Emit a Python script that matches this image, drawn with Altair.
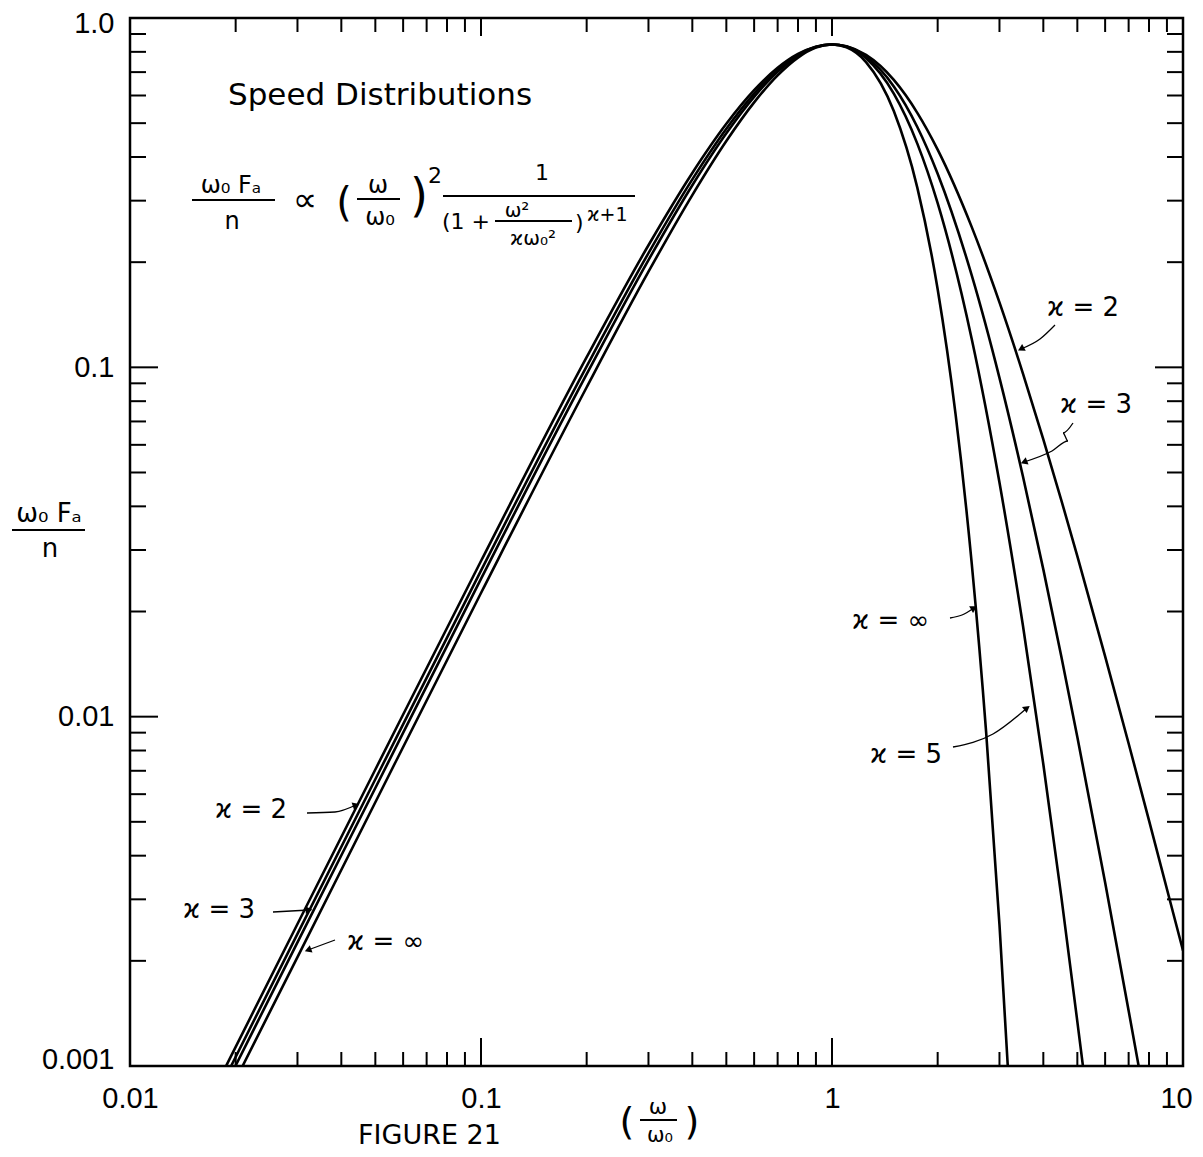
import math
import altair as alt
import pandas as pd

# ---------------- data ----------------
# omega/omega0 (x) and omega0*Fa/n (y) for each kappa curve
k2_x = [0.01878, 0.03, 0.05, 0.1, 0.2, 0.3, 0.4, 0.5, 0.6, 0.7, 0.8, 0.9, 1.0, 1.1, 1.25,
        1.5, 1.75, 2.0, 2.5, 3.0, 3.5, 4.0, 4.5, 5.0, 6.0, 7.0, 8.0, 10.0]
k2_y = [0.001, 0.00255, 0.00706, 0.0279, 0.1069, 0.2236, 0.3601, 0.4978, 0.6212, 0.7199,
        0.7889, 0.8280, 0.840, 0.8297, 0.7838, 0.6648, 0.5353, 0.420, 0.2524, 0.1534,
        0.0960, 0.0622, 0.0417, 0.0288, 0.01488, 0.00838, 0.00505, 0.00214]

k3_x = [0.01941, 0.03, 0.05, 0.1, 0.2, 0.3, 0.4, 0.5, 0.6, 0.7, 0.8, 0.9, 1.0, 1.1, 1.25,
        1.5, 1.75, 2.0, 2.5, 3.0, 3.5, 4.0, 4.5, 5.0, 6.0, 7.0, 7.475]
k3_y = [0.001, 0.00239, 0.00662, 0.0262, 0.1007, 0.2123, 0.3451, 0.4819, 0.6074, 0.7103,
        0.7840, 0.8267, 0.840, 0.8283, 0.7755, 0.6369, 0.4876, 0.3583, 0.1836, 0.0933,
        0.0487, 0.0264, 0.0149, 0.00875, 0.00335, 0.00144, 0.001]

k5_x = [0.01997, 0.03, 0.05, 0.1, 0.2, 0.3, 0.4, 0.5, 0.6, 0.7, 0.8, 0.9, 1.0, 1.1, 1.25,
        1.5, 1.75, 2.0, 2.5, 3.0, 3.5, 4.0, 4.5, 5.0, 5.187]
k5_y = [0.001, 0.00226, 0.00625, 0.0248, 0.0956, 0.2028, 0.3322, 0.4679, 0.5949, 0.7013,
        0.7792, 0.8253, 0.840, 0.8268, 0.7666, 0.6072, 0.4369, 0.2950, 0.1208, 0.0468,
        0.0182, 0.00731, 0.00306, 0.00134, 0.001]

kinf_x = [0.02093, 0.03, 0.05, 0.1, 0.2, 0.3, 0.4, 0.5, 0.6, 0.7, 0.8, 0.9, 1.0, 1.1, 1.25,
          1.5, 1.75, 2.0, 2.25, 2.5, 2.75, 3.0, 3.168]
kinf_y = [0.001, 0.00205, 0.00569, 0.0226, 0.0877, 0.1878, 0.3113, 0.4445, 0.5734, 0.6853,
          0.7704, 0.8227, 0.840, 0.8238, 0.7477, 0.5414, 0.3270, 0.1673, 0.0732, 0.02755,
          0.00897, 0.00254, 0.001]

# axis tick positions and labels
x_label_values = [0.01, 0.1, 1, 10]
x_label_text = ["0.01", "0.1", "1", "10"]
y_label_values = [0.001, 0.01, 0.1, 1]
y_label_text = ["0.001", "0.01", "0.1", "1.0"]
x_major_ticks = [0.1, 1]
x_minor_ticks = [0.02, 0.03, 0.04, 0.05, 0.06, 0.07, 0.08, 0.09,
                 0.2, 0.3, 0.4, 0.5, 0.6, 0.7, 0.8, 0.9,
                 2, 3, 4, 5, 6, 7, 8, 9]
y_major_ticks = [0.01, 0.1]
y_minor_ticks = [0.002, 0.003, 0.004, 0.005, 0.006, 0.007, 0.008, 0.009,
                 0.02, 0.03, 0.04, 0.05, 0.06, 0.07, 0.08, 0.09,
                 0.2, 0.3, 0.4, 0.5, 0.6, 0.7, 0.8, 0.9]

# ---------------- layout / style ----------------
W, H = 1053, 1048          # plot area
OX, OY = 130, 18           # plot origin on the page
MINOR, MAJOR = 14, 28
INK = "black"
LBL_FONT = "Liberation Sans"
TXT_FONT = "DejaVu Sans"

xscale = alt.Scale(type="log", domain=[0.01, 10], nice=False)
yscale = alt.Scale(type="log", domain=[0.001, 1], nice=False)


def lab_expr(vals, texts):
    expr = "'" + texts[-1] + "'"
    for v, t in reversed(list(zip(vals[:-1], texts[:-1]))):
        expr = f"datum.value < {v * 3} ? '{t}' : " + expr
    return expr


xaxis = alt.Axis(values=x_label_values, labelExpr=lab_expr(x_label_values, x_label_text),
                 domain=False, ticks=False, tickSize=0, grid=False, title=None,
                 labelFont=LBL_FONT, labelFontSize=29, labelColor=INK, labelPadding=18,
                 labelFlush=False, labelOverlap=False,
                 labelOffset={"condition": {"test": "datum.value > 5", "value": -7}, "value": 0})
yaxis = alt.Axis(values=y_label_values, labelExpr=lab_expr(y_label_values, y_label_text),
                 domain=False, ticks=False, tickSize=0, grid=False, title=None,
                 labelFont=LBL_FONT, labelFontSize=29, labelColor=INK, labelPadding=16,
                 labelFlush=False, labelOverlap=False,
                 labelOffset={"condition": [{"test": "datum.value > 0.5", "value": 5},
                                            {"test": "datum.value < 0.005", "value": -7}],
                              "value": 0})


def X(field):
    return alt.X(field, type="quantitative", scale=xscale, axis=xaxis, title=None)


def Y(field):
    return alt.Y(field, type="quantitative", scale=yscale, axis=yaxis, title=None)


def PX(field):
    return alt.X(field, type="quantitative", scale=None, axis=None, title=None)


def PY(field):
    return alt.Y(field, type="quantitative", scale=None, axis=None, title=None)


# ---------------- curves ----------------
rows = []
for name, xs, ys in [("2", k2_x, k2_y), ("3", k3_x, k3_y), ("5", k5_x, k5_y), ("inf", kinf_x, kinf_y)]:
    for i, (a, b) in enumerate(zip(xs, ys)):
        rows.append({"kappa": name, "i": i, "w": a, "f": b})
curves_df = pd.DataFrame(rows)

curves = alt.Chart(curves_df).mark_line(
    color=INK, strokeWidth=2.6, interpolate="monotone", clip=True
).encode(x=X("w"), y=Y("f"), detail="kappa:N", order="i:Q")

layers = [curves]

# ---------------- inward ticks on all four sides ----------------
for vals, ln in [(x_minor_ticks, MINOR), (x_major_ticks, MAJOR)]:
    d = pd.DataFrame({"v": vals})
    layers.append(alt.Chart(d).mark_rule(color=INK, strokeWidth=2).encode(
        x=X("v"), y=alt.value(H), y2=alt.value(H - ln)))
    layers.append(alt.Chart(d).mark_rule(color=INK, strokeWidth=2).encode(
        x=X("v"), y=alt.value(0), y2=alt.value(min(ln, 18))))
for vals, ln in [(y_minor_ticks, MINOR + 2), (y_major_ticks, MAJOR)]:
    d = pd.DataFrame({"v": vals})
    layers.append(alt.Chart(d).mark_rule(color=INK, strokeWidth=2).encode(
        y=Y("v"), x=alt.value(0), x2=alt.value(ln)))
    layers.append(alt.Chart(d).mark_rule(color=INK, strokeWidth=2).encode(
        y=Y("v"), x=alt.value(W), x2=alt.value(W - ln)))


# ---------------- annotations (page pixel positions) ----------------
def P(x, y):
    return x - OX, y - OY


def text_layer(items, align, baseline, font=TXT_FONT):
    d = pd.DataFrame([{"t": t, "px": P(x, y)[0], "py": P(x, y)[1], "fs": s} for t, x, y, s in items])
    return alt.Chart(d).mark_text(align=align, baseline=baseline, font=font, color=INK).encode(
        x=PX("px"), y=PY("py"), text="t:N", size=alt.Size("fs:Q", scale=None, legend=None))


layers.append(text_layer([
    ("ω₀ Fₐ", 231, 193, 24), ("n", 232, 229, 24),
    ("ω", 378, 193, 24), ("ω₀", 380, 225, 24),
    ("1", 542, 180, 22), ("ω²", 517, 217, 20), ("ϰω₀²", 533, 245, 20),
    ("ω₀ Fₐ", 49, 522, 26), ("n", 50, 557, 26),
    ("ω", 658, 1114, 22), ("ω₀", 660, 1142, 21),
], "center", "alphabetic"))

layers.append(text_layer([
    ("∝", 305, 201, 34), ("(", 344, 204, 40), (")", 419, 197, 46),
    ("(", 627, 1123, 38), (")", 692, 1123, 38),
], "center", "middle"))

layers.append(text_layer([
    ("Speed Distributions", 228, 105, 31),
    ("2", 428, 183, 22), ("(1 +", 442, 229, 22), (")", 575, 230, 22), ("ϰ+1", 587, 221, 19),
], "left", "alphabetic"))

layers.append(text_layer([("FIGURE  21", 358, 1144, 27)], "left", "alphabetic"))

layers.append(text_layer([
    ("ϰ = 2", 1047, 308, 26), ("ϰ = 3", 1060, 405, 26),
    ("ϰ = ∞", 852, 621, 26), ("ϰ = 5", 870, 755, 26),
    ("ϰ = 2", 215, 810, 26), ("ϰ = 3", 183, 910, 26), ("ϰ = ∞", 347, 942, 26),
], "left", "middle"))

# fraction bars
bars = [(192, 275, 200), (357, 400, 199), (443, 635, 196), (495, 572, 221),
        (12, 85, 530), (640, 677, 1120)]
bars_df = pd.DataFrame([{"x1": P(a, y)[0], "x2": P(b, y)[0], "yy": P(a, y)[1]} for a, b, y in bars])
layers.append(alt.Chart(bars_df).mark_rule(color=INK, strokeWidth=2).encode(
    x=PX("x1"), x2="x2:Q", y=PY("yy")))

# label arrows
arrows = {
    "r2": [(1055, 325), (1040, 339), (1021, 349)],
    "r3": [(1073, 423), (1063, 433), (1068, 441), (1052, 451), (1024, 462)],
    "rinf": [(950, 618), (962, 615), (974, 608)],
    "r5": [(953, 747), (993, 734), (1027, 708)],
    "l2": [(307, 813), (335, 812), (356, 805)],
    "l3": [(273, 912), (309, 910)],
    "linf": [(335, 940), (308, 950)],
}
arows, heads = [], []
for k, pts in arrows.items():
    for i, (x, y) in enumerate(pts):
        px, py = P(x, y)
        arows.append({"id": k, "i": i, "px": px, "py": py})
    (x0, y0), (x1, y1) = pts[-2], pts[-1]
    ang = math.degrees(math.atan2(x1 - x0, -(y1 - y0))) % 360
    hx, hy = P(x1, y1)
    heads.append({"px": hx, "py": hy, "ang": ang})

layers.append(alt.Chart(pd.DataFrame(arows)).mark_line(color=INK, strokeWidth=1.3,
                                                       interpolate="monotone").encode(
    x=PX("px"), y=PY("py"), detail="id:N", order="i:Q"))
layers.append(alt.Chart(pd.DataFrame(heads)).mark_point(
    shape="triangle-up", filled=True, color=INK, size=60, opacity=1).encode(
    x=PX("px"), y=PY("py"), angle=alt.Angle("ang:Q", scale=None)))

chart = alt.layer(*layers).properties(
    width=W, height=H,
    autosize=alt.AutoSizeParams(type="none"),
    padding={"left": 122, "top": 10, "right": 12, "bottom": 83},
    background="white",
).configure_view(stroke=INK, strokeWidth=2.5)

chart.save("out.html", embed_options={"renderer": "svg", "actions": False})
